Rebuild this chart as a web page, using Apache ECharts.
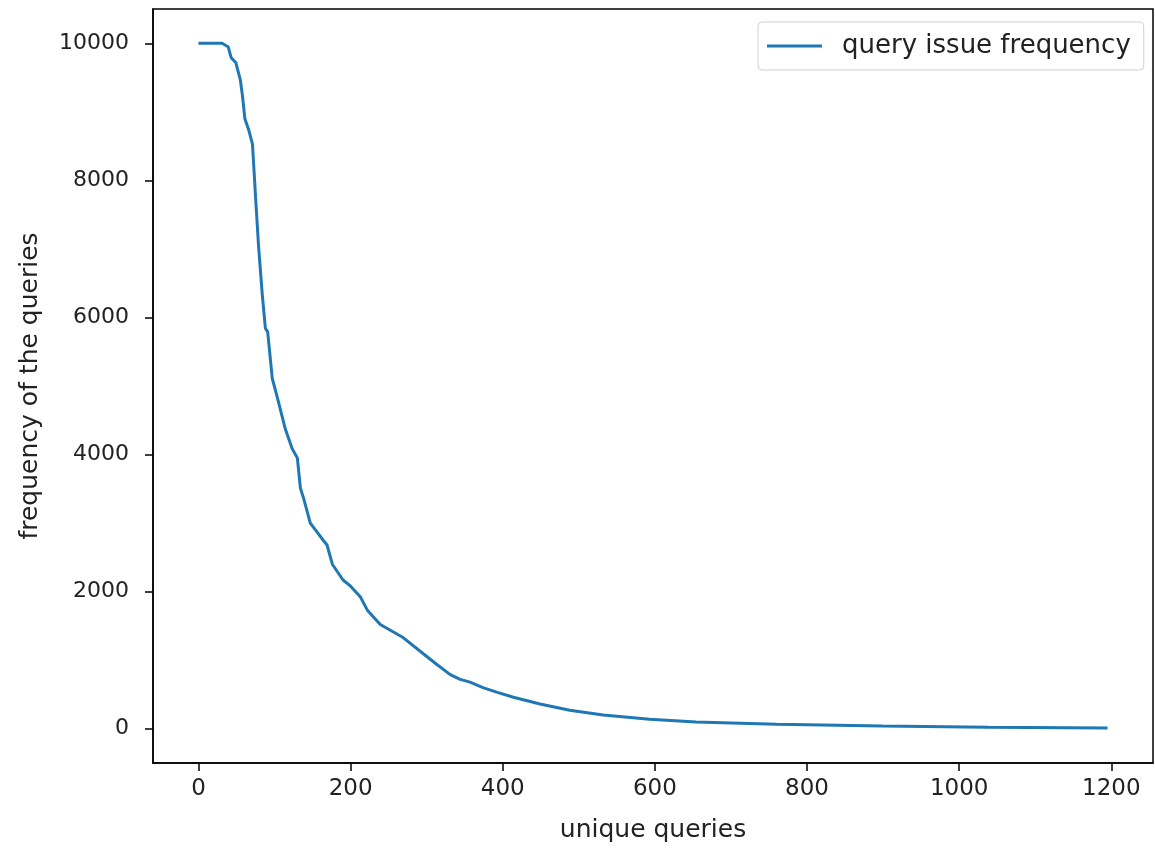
<!DOCTYPE html>
<html>
<head>
<meta charset="utf-8">
<script src="https://cdn.jsdelivr.net/npm/echarts@6/dist/echarts.min.js"></script>
<style>
  html, body { margin: 0; padding: 0; background: #fff; }
  #chart { width: 1155px; height: 848px; }
</style>
</head>
<body>
<div id="chart"></div>
<script>
// rank of the unique query (x) and how often it was issued (y)
const queryRank = [0, 31, 39, 43, 49, 55, 58, 61, 66, 71, 75, 79, 84, 88, 91, 97, 104, 114, 123, 130, 134, 138, 147, 151, 164, 169, 176, 190, 200, 213, 222, 239, 269, 296, 313, 331, 344, 357, 374, 393, 414, 449, 488, 532, 593, 654, 760, 899, 1038, 1195];
const queryFreq = [10000, 10000, 9950, 9790, 9720, 9470, 9220, 8900, 8740, 8530, 7770, 7040, 6320, 5840, 5790, 5110, 4820, 4380, 4090, 3950, 3510, 3370, 3000, 2940, 2750, 2680, 2400, 2170, 2080, 1920, 1730, 1520, 1330, 1090, 940, 790, 720, 680, 600, 530, 460, 360, 270, 200, 140, 97, 67, 38, 23, 12];
const xTicks = [0, 200, 400, 600, 800, 1000, 1200];
const yTicks = [0, 2000, 4000, 6000, 8000, 10000];
const seriesName = "query issue frequency";

const chart = echarts.init(document.getElementById("chart"));

const points = queryRank.map((x, i) => [x, queryFreq[i]]);

const option = {
  animation: false,
  textStyle: { fontFamily: "DejaVu Sans" },
  grid: {
    left: 153,
    right: 2,
    top: 9,
    bottom: 82,
    show: true,
    borderColor: "#000",
    borderWidth: 1.5,
  },
  legend: {
    left: 758,
    top: 22,
    icon: "rect",
    itemWidth: 55,
    itemHeight: 3,
    padding: [11, 13, 11, 9],
    borderColor: "#d0d0d0",
    borderWidth: 1,
    borderRadius: 4,
    textStyle: {
      fontFamily: "DejaVu Sans",
      fontSize: 26,
      color: "#222",
      padding: [0, 0, 0, 15],
    },
    data: [seriesName],
  },
  xAxis: {
    type: "value",
    min: -59.75,
    max: 1254.75,
    name: "unique queries",
    nameLocation: "middle",
    nameGap: 55,
    nameTextStyle: {
      fontFamily: "DejaVu Sans",
      fontSize: 25,
      color: "#222",
    },
    axisLine: { show: true, onZero: false, lineStyle: { color: "#000", width: 1.5 } },
    axisTick: { show: true, length: 8, customValues: xTicks, lineStyle: { color: "#000", width: 1.5 } },
    axisLabel: {
      customValues: xTicks,
      formatter: (v) => String(v),
      margin: 15,
      fontFamily: "DejaVu Sans",
      fontSize: 23,
      color: "#222",
    },
    splitLine: { show: false },
  },
  yAxis: {
    type: "value",
    min: -500,
    max: 10500,
    name: "frequency of the queries",
    nameLocation: "middle",
    nameGap: 110,
    nameTextStyle: {
      fontFamily: "DejaVu Sans",
      fontSize: 25,
      color: "#222",
    },
    axisLine: { show: true, onZero: false, lineStyle: { color: "#000", width: 1.5 } },
    axisTick: { show: true, length: 8, customValues: yTicks, lineStyle: { color: "#000", width: 1.5 } },
    axisLabel: {
      customValues: yTicks,
      formatter: (v) => String(v),
      margin: 24,
      fontFamily: "DejaVu Sans",
      fontSize: 22,
      color: "#222",
    },
    splitLine: { show: false },
  },
  series: [
    {
      name: seriesName,
      type: "line",
      data: points,
      showSymbol: false,
      smooth: false,
      itemStyle: { color: "#1f77b4" },
      lineStyle: { color: "#1f77b4", width: 3 },
    },
  ],
};

chart.setOption(option);
</script>
</body>
</html>
